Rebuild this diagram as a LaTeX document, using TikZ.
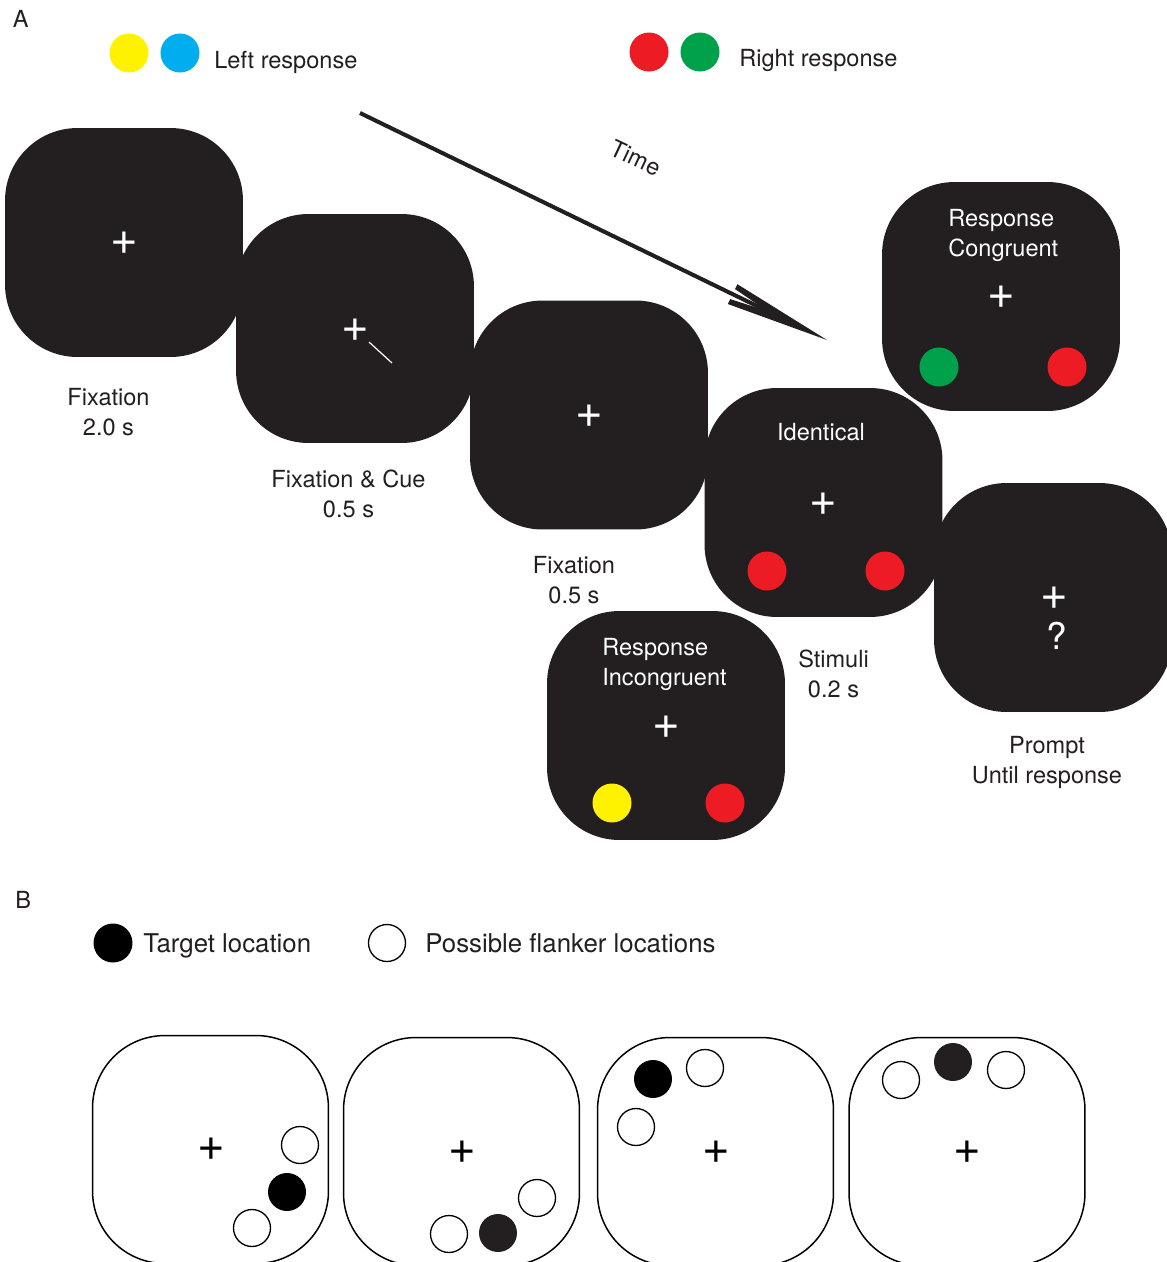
\documentclass[tikz,border=0pt]{standalone}
\usepackage{fontspec}
\setmainfont{TeX Gyre Heros}
\definecolor{boxdark}{HTML}{231F20}
\definecolor{cyellow}{HTML}{FFF200}
\definecolor{cblue}{HTML}{00AEEF}
\definecolor{cred}{HTML}{ED1C24}
\definecolor{cgreen}{HTML}{00A14B}
\newcommand\lblfont{\fontsize{13.4}{17}\selectfont}
\newcommand\legfont{\fontsize{14.7}{18}\selectfont}
\newcommand\plusfont{\fontsize{27}{27}\selectfont}
\newcommand\qmfont{\fontsize{21}{21}\selectfont}
\begin{document}
\begin{tikzpicture}[x=0.02cm, y=-0.02cm,
  darkbox/.style={rectangle, fill=boxdark, draw=none, minimum width=4.76cm, minimum height=4.58cm, rounded corners=1.45cm, inner sep=0pt},
  whitebox/.style={rectangle, fill=white, draw=black, line width=0.85pt, minimum width=4.72cm, minimum height=4.56cm, rounded corners=1.45cm, inner sep=0pt},
  colordot/.style={circle, minimum size=0.78cm, inner sep=0pt, draw=none},
  ring/.style={circle, minimum size=0.74cm, inner sep=0pt, draw=black, line width=0.75pt, fill=white},
  target/.style={circle, minimum size=0.76cm, inner sep=0pt, fill=black},
  lbl/.style={font=\lblfont, align=center, anchor=north, inner sep=0pt, text=boxdark},
  wlbl/.style={font=\lblfont, align=left, anchor=north west, inner sep=0pt, text=white},
  plain/.style={font=\lblfont, anchor=base west, inner sep=0pt, text=boxdark},
  wplus/.style={font=\plusfont, text=white, inner sep=0pt},
  bplus/.style={font=\plusfont, text=black, inner sep=0pt}]
\useasboundingbox (0,0) rectangle (1167,1262);
\fill[white] (0,0) rectangle (1167,1262);

% ---------- Panel A legend
\node[plain] (labA) at (12.5,27) {A};
\node[colordot, fill=cyellow] (ly) at (129,53) {};
\node[colordot, fill=cblue] (lb) at (180,53) {};
\node[plain] (lleft) at (214,68) {Left response};
\node[colordot, fill=cred] (lr) at (649,52) {};
\node[colordot, fill=cgreen] (lg) at (700,52) {};
\node[plain] (lright) at (739,66) {Right response};

% ---------- Time arrow
\coordinate (tstart) at (360,113);
\coordinate (tjoin) at (767.7,311.2);
\coordinate (tshaftend) at (774.9,314.7);
\coordinate (ttip) at (827,340);
\draw[line width=2.3pt, boxdark] (tstart) -- (tshaftend);
\fill[boxdark] (ttip) -- (737.4,284.2) -- (735,289.1) -- (tjoin) -- (730.2,299.1) -- (727.8,304) -- cycle;
\node[font=\lblfont, rotate=-25, inner sep=0pt, text=boxdark] (ttime) at (636,158) {Time};

% ---------- Screens
\node[darkbox] (b1) at (124,242.5) {};
\node[wplus] (p1) at (124,243.5) {+};
\node[lbl] (t1) at (108.5,388) {Fixation\\2.0 s};

\node[darkbox] (b2) at (355,328.5) {};
\node[wplus] (p2) at (355,330) {+};
\coordinate (cueA) at (369,342);
\coordinate (cueB) at (392,363);
\draw[white, line width=0.7pt] (cueA) -- (cueB);
\node[lbl] (t2) at (348.5,470) {Fixation \& Cue\\0.5 s};

\node[darkbox] (b3) at (589,415) {};
\node[wplus] (p3) at (589,416) {+};
\node[lbl] (t3) at (574,556) {Fixation\\0.5 s};

\node[darkbox] (b6) at (1001,296.5) {};
\node[wlbl] (w6) at (948,209) {Response\\Congruent};
\node[wplus] (p6) at (1001,297) {+};
\node[colordot, fill=cgreen] (c6a) at (939,367) {};
\node[colordot, fill=cred] (c6b) at (1067,367) {};

\node[darkbox] (b4) at (823.5,502.5) {};
\node[font=\lblfont, anchor=base, inner sep=0pt, text=white] (w4) at (821,440) {Identical};
\node[wplus] (p4) at (823,504) {+};
\node[colordot, fill=cred] (c4a) at (767,571) {};
\node[colordot, fill=cred] (c4b) at (885,571) {};
\node[lbl] (t4) at (833.5,650) {Stimuli\\0.2 s};

\node[darkbox] (b7) at (666,725.5) {};
\node[wlbl] (w7) at (602,638) {Response\\Incongruent};
\node[wplus] (p7) at (666,727) {+};
\node[colordot, fill=cyellow] (c7a) at (612,803) {};
\node[colordot, fill=cred] (c7b) at (725,803) {};

\node[darkbox] (b5) at (1053,597.5) {};
\node[wplus] (p5) at (1054,598.5) {+};
\node[font=\qmfont, text=white, inner sep=0pt] (q5) at (1057,636) {?};
\node[lbl] (t5) at (1047,736) {Prompt\\Until response};

% ---------- Panel B legend
\node[plain] (labB) at (15,908) {B};
\node[target, minimum width=0.76cm, minimum height=0.78cm] (lt) at (113,943) {};
\node[plain, font=\legfont] (ltgt) at (143,952) {Target location};
\node[ring] (lf) at (387,943) {};
\node[plain, font=\legfont] (lflank) at (425,952) {Possible flanker locations};

% ---------- Panel B screens
\node[whitebox] (s1) at (210.5,1149.5) {};
\node[bplus] (sp1) at (211,1149) {+};
\node[ring] (s1a) at (300,1145) {};
\node[target] (s1t) at (287,1192) {};
\node[ring] (s1b) at (252,1228) {};

\node[whitebox] (s2) at (461.5,1151.5) {};
\node[bplus] (sp2) at (462,1152) {+};
\node[ring] (s2a) at (537,1198) {};
\node[target, fill=boxdark] (s2t) at (498,1233) {};
\node[ring] (s2b) at (449,1234) {};

\node[whitebox] (s3) at (715.5,1151.5) {};
\node[bplus] (sp3) at (716,1152) {+};
\node[target] (s3t) at (653,1079) {};
\node[ring] (s3a) at (705,1068) {};
\node[ring] (s3b) at (636,1127) {};

\node[whitebox] (s4) at (967,1151.5) {};
\node[bplus] (sp4) at (967,1152) {+};
\node[target, fill=boxdark] (s4t) at (953,1062) {};
\node[ring] (s4a) at (901,1080) {};
\node[ring] (s4b) at (1006,1070) {};
\end{tikzpicture}
\end{document}
